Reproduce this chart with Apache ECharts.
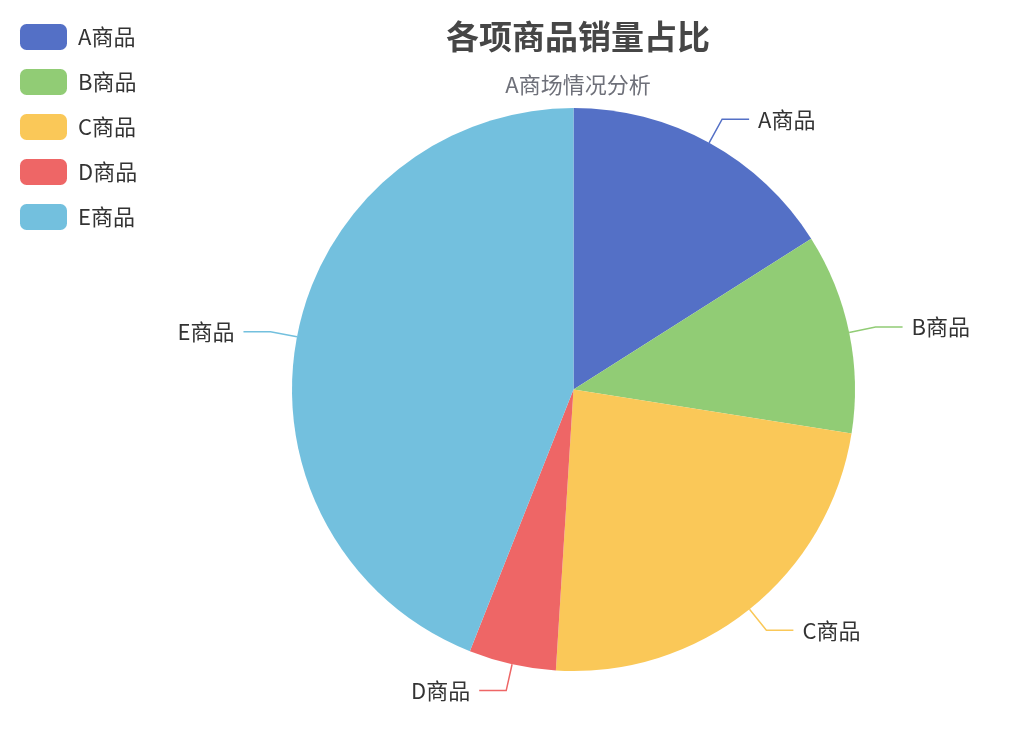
<!DOCTYPE html>
<html>
<head>
<meta charset="utf-8">
<script src="https://cdn.jsdelivr.net/npm/echarts@6/dist/echarts.min.js"></script>
<style>
html,body{margin:0;padding:0;background:#fff;}
#main{width:1028px;height:738px;}
</style>
</head>
<body>
<div id="main"></div>
<script>
var titleText = '各项商品销量占比';
var subtitleText = 'A商场情况分析';
var categories = ['A商品', 'B商品', 'C商品', 'D商品', 'E商品'];
var salesValues = [32, 23, 47, 10, 88];

var seriesData = categories.map(function (c, i) { return { name: c, value: salesValues[i] }; });
var FONT = '"Noto Sans CJK SC", "Noto Sans", sans-serif';

var chart = echarts.init(document.getElementById('main'));
chart.setOption({
  animation: false,
  color: ['#5470c6', '#91cc75', '#fac858', '#ee6666', '#73c0de'],
  title: {
    text: titleText,
    subtext: subtitleText,
    left: 573,
    textAlign: 'center',
    top: 15,
    itemGap: 21,
    textStyle: { fontSize: 33, fontWeight: 'bold', color: '#464646', fontFamily: FONT },
    subtextStyle: { fontSize: 22, color: '#6E7079', fontFamily: FONT }
  },
  legend: {
    orient: 'vertical',
    left: 20,
    top: 24,
    padding: 0,
    itemWidth: 47,
    itemHeight: 26,
    itemGap: 19,
    itemStyle: { borderRadius: 7 },
    textStyle: { fontSize: 22, color: '#333', fontFamily: FONT, padding: [0, 0, 0, 6] },
    data: categories
  },
  series: [{
    type: 'pie',
    center: [573.5, 389.5],
    radius: 281.5,
    data: seriesData,
    label: { fontSize: 22, color: '#333', fontFamily: FONT, distanceToLabelLine: 9 },
    labelLine: { length: 27, length2: 27, lineStyle: { width: 1.5 } }
  }]
});
</script>
</body>
</html>
